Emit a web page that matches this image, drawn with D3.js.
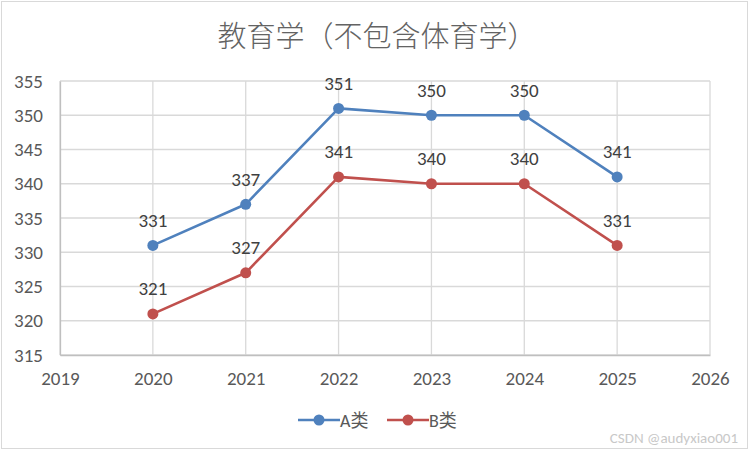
<!DOCTYPE html>
<html><head><meta charset="utf-8">
<script src="https://cdn.jsdelivr.net/npm/d3@7"></script>
<style>body{margin:0;background:#fff}svg{display:block}</style>
</head><body><svg id="c" width="752" height="452"></svg>
<script>
const years = [2020, 2021, 2022, 2023, 2024, 2025];
const seriesA = [331, 337, 351, 350, 350, 341];
const seriesB = [321, 327, 341, 340, 340, 331];
const seriesNames = ["A类", "B类"];
const xTicks = [2019, 2020, 2021, 2022, 2023, 2024, 2025, 2026];
const yTicks = [315, 320, 325, 330, 335, 340, 345, 350, 355];
const colors = ["#4f81bd", "#c0504d"];
const title = "教育学（不包含体育学）";

const svg = d3.select("#c");
const font = "Carlito, Calibri, Lato, 'Noto Sans CJK SC', sans-serif";
svg.append("rect").attr("x",1.5).attr("y",1.5).attr("width",746).attr("height",447)
  .attr("fill","#fff").attr("stroke","#d9d9d9").attr("stroke-width",1);

const x = d3.scaleLinear().domain([2019, 2026]).range([60, 710]);
const y = d3.scaleLinear().domain([315, 355]).range([355, 81]);

svg.append("text").attr("x", 377).attr("y", 47).attr("text-anchor","middle")
  .attr("font-family","'Noto Sans CJK SC', sans-serif").attr("font-weight",300)
  .attr("font-size",29).attr("fill","#636363").text(title);

const g = svg.append("g");
g.selectAll(".hg").data(yTicks).enter().append("line")
  .attr("x1", x(2019)).attr("x2", x(2026)).attr("y1", d=>y(d)).attr("y2", d=>y(d))
  .attr("stroke","#d9d9d9").attr("stroke-width",1.3);
g.selectAll(".vg").data(xTicks).enter().append("line")
  .attr("x1", d=>x(d)).attr("x2", d=>x(d)).attr("y1", y(315)).attr("y2", y(355))
  .attr("stroke","#d9d9d9").attr("stroke-width",1.3);

const yAxis = d3.axisLeft(y).tickValues(yTicks).tickSize(0).tickPadding(17);
const ya = g.append("g").attr("transform",`translate(${x(2019)},0)`).call(yAxis);
const xAxis = d3.axisBottom(x).tickValues(xTicks).tickSize(0).tickPadding(17).tickFormat(d3.format("d"));
const xa = g.append("g").attr("transform",`translate(0,${y(315)})`).call(xAxis);
[ya, xa].forEach(a => {
  a.select(".domain").attr("stroke","#bfbfbf").attr("stroke-width",1.3);
  a.selectAll("text").attr("font-family",font).attr("font-size",19).attr("fill","#595959");
});
ya.selectAll("text").attr("text-anchor","end");

const line = d3.line().x((d,i)=>x(years[i])).y(d=>y(d));
[seriesA, seriesB].forEach((s, k) => {
  g.append("path").datum(s).attr("d", line).attr("fill","none")
    .attr("stroke", colors[k]).attr("stroke-width", 2.6).attr("stroke-linejoin","round");
  g.selectAll(".pt"+k).data(s).enter().append("circle")
    .attr("cx",(d,i)=>x(years[i])).attr("cy",d=>y(d)).attr("r",5.5).attr("fill",colors[k]);
  g.selectAll(".lb"+k).data(s).enter().append("text")
    .attr("x",(d,i)=>x(years[i])).attr("y",d=>y(d)-18.5).attr("text-anchor","middle")
    .attr("font-family",font).attr("font-size",19).attr("fill","#404040").text(d=>d);
});

const lg = svg.append("g");
const legX = [298, 387];
seriesNames.forEach((n,k)=>{
  const lx = legX[k];
  lg.append("line").attr("x1",lx).attr("x2",lx+42).attr("y1",420).attr("y2",420)
    .attr("stroke",colors[k]).attr("stroke-width",2.6);
  lg.append("circle").attr("cx",lx+21).attr("cy",420).attr("r",5.5).attr("fill",colors[k]);
  lg.append("text").attr("x",lx+42).attr("y",427).attr("font-family",font)
    .attr("font-size",18).attr("fill","#595959").text(n);
});

svg.append("text").attr("x",738).attr("y",443).attr("text-anchor","end")
  .attr("font-family",font).attr("font-size",15).attr("fill","#c8c8c8").text("CSDN @audyxiao001");
</script></body></html>
